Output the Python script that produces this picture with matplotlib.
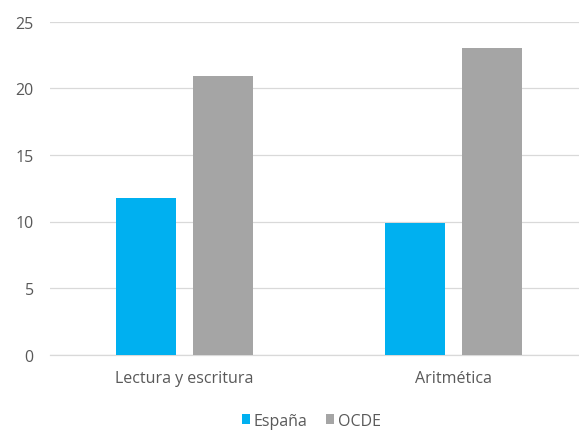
import numpy as np
import matplotlib.pyplot as plt

categorias = ["Lectura y escritura", "Aritmética"]
espana = [11.8, 9.9]
ocde = [20.9, 23.0]
series = ["España", "OCDE"]

plt.rcParams['font.family'] = ['Open Sans', 'DejaVu Sans']

fig = plt.figure(figsize=(5.79, 4.31), dpi=100)
ax = fig.add_axes([49.7 / 579, 75.3 / 431, 529.3 / 579, 333 / 431])

x = np.arange(len(categorias))
ancho = 0.223
sep = 0.143
ax.bar(x - sep, espana, ancho, color="#00B0F0", label=series[0], zorder=3)
ax.bar(x + sep, ocde, ancho, color="#A5A5A5", label=series[1], zorder=3)

ax.set_xlim(-0.5, 1.466)
ax.set_ylim(0, 25)
ax.set_yticks([0, 5, 10, 15, 20, 25])
ax.set_xticks(x)
ax.set_xticklabels(categorias)

ax.grid(axis="y", color="#D9D9D9", linewidth=0.9, zorder=0)
for s in ["top", "right", "left"]:
    ax.spines[s].set_visible(False)
ax.spines["bottom"].set_color("#D9D9D9")
ax.spines["bottom"].set_linewidth(0.9)
ax.tick_params(axis="both", length=0, labelsize=11.5, labelcolor="#595959")
ax.tick_params(axis="y", pad=11.5)
ax.tick_params(axis="x", pad=11)

fig.legend(loc="center", bbox_to_anchor=(311.5 / 579, 1 - 421.7 / 431), ncol=2,
           frameon=False, fontsize=11.5, labelcolor="#595959",
           handlelength=0.5, handleheight=0.5, handletextpad=0.25,
           columnspacing=1.2, borderpad=0)

fig.savefig("out.png", dpi=100)
